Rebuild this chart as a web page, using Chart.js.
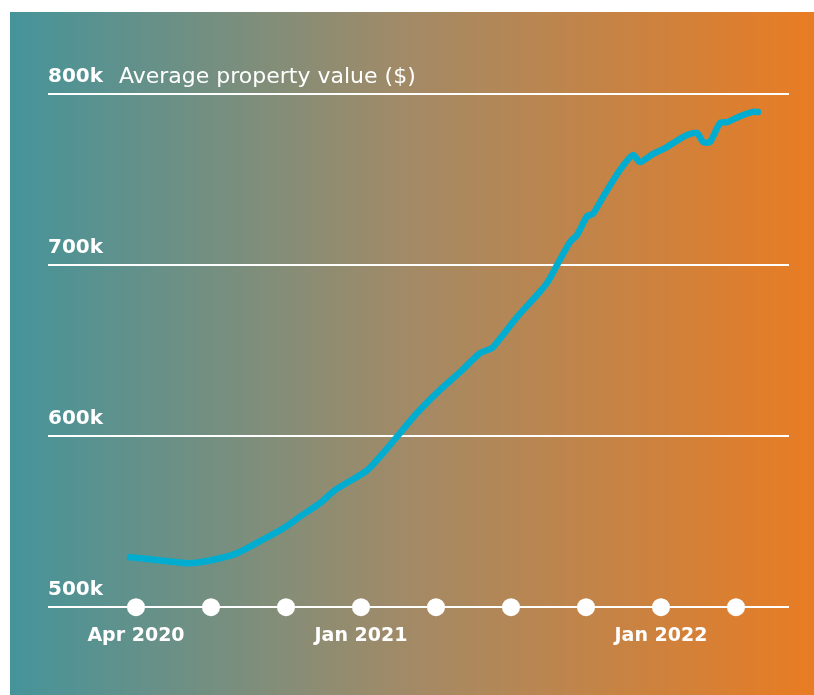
<!DOCTYPE html>
<html>
<head>
<meta charset="utf-8">
<script src="https://cdn.jsdelivr.net/npm/chart.js"></script>
<style>
  html, body { margin: 0; padding: 0; background: #fff; }
  #wrap { position: relative; width: 814px; height: 695px; }
</style>
</head>
<body>
<div id="wrap"><canvas id="chart" width="814" height="695"></canvas></div>
<script>
// months since Apr 2020 and average value in $k
const months = [-0.24, 0.56, 2.04, 2.56, 3.36, 4.04, 4.96, 5.88, 6.64, 7.36, 7.96, 9.24, 9.88, 10.56,
  11.24, 12.16, 12.96, 13.76, 14.24, 14.56, 15.24, 16.04, 16.44, 16.84, 17.36, 17.64, 18.04, 18.28,
  18.68, 19.36, 19.88, 20.16, 20.44, 20.68, 21.24, 21.48, 22.04, 22.44, 22.68, 22.96, 23.36, 23.64,
  24.16, 24.68, 24.88];
const values = [529.2, 528, 525.7, 526.3, 528.6, 531.6, 538.6, 546, 553.8, 560.8, 568.4, 580, 590, 601.8,
  613.5, 627, 637.4, 648.5, 651.5, 657, 669.6, 682.5, 689.5, 700, 713.5, 717.5, 728.5, 730,
  739.8, 755.6, 764.3, 760.2, 762.6, 765, 769, 771.3, 776, 777.2, 772, 772, 783, 783.6,
  787, 789.5, 789.5];

// quarter markers along the axis
const quarterTicks = [0, 3, 6, 9, 12, 15, 18, 21, 24];
const quarterLabels = ['Apr 2020', '', '', 'Jan 2021', '', '', '', 'Jan 2022', ''];
const yTicks = [500, 600, 700, 800];
const yTitle = 'Average property value ($)';

const bgPlugin = {
  id: 'bg',
  beforeDraw(chart) {
    const ctx = chart.ctx;
    const g = ctx.createLinearGradient(10, 0, 814, 0);
    g.addColorStop(0, '#45949b');
    g.addColorStop(0.5, '#a38a66');
    g.addColorStop(1, '#e97c23');
    ctx.save();
    ctx.fillStyle = g;
    ctx.fillRect(10, 12, 804, 683);
    ctx.restore();
  },
  afterDraw(chart) {
    const ctx = chart.ctx;
    const y = chart.scales.y.getPixelForValue(800) - 17;
    ctx.save();
    ctx.fillStyle = '#fff';
    ctx.font = '22px "DejaVu Sans"';
    ctx.textBaseline = 'middle';
    ctx.fillText(yTitle, 119, y);
    ctx.restore();
  }
};

new Chart(document.getElementById('chart'), {
  type: 'line',
  data: {
    datasets: [{
      data: months.map((m, i) => ({ x: m, y: values[i] })),
      borderColor: '#00add0',
      borderWidth: 6.5,
      borderCapStyle: 'round',
      borderJoinStyle: 'round',
      pointRadius: 0,
      tension: 0.25,
      fill: false
    }, {
      data: quarterTicks.map(m => ({ x: m, y: 500 })),
      showLine: false,
      pointRadius: 9,
      pointBackgroundColor: '#fff',
      pointBorderWidth: 0,
      clip: false
    }]
  },
  options: {
    responsive: false,
    animation: false,
    events: [],
    layout: { padding: { left: 48, top: 94, right: 25, bottom: 31 } },
    plugins: { legend: { display: false }, tooltip: { enabled: false } },
    scales: {
      x: {
        type: 'linear',
        min: -3.52,
        max: 26.12,
        afterBuildTicks(axis) { axis.ticks = quarterTicks.map(v => ({ value: v })); },
        grid: { display: false, drawTicks: false },
        border: { display: false },
        ticks: {
          autoSkip: false,
          maxRotation: 0,
          padding: 17,
          color: '#fff',
          font: { family: 'DejaVu Sans', size: 19, weight: 'bold' },
          callback: (v, i) => quarterLabels[i]
        }
      },
      y: {
        min: 500,
        max: 800,
        afterBuildTicks(axis) { axis.ticks = yTicks.map(v => ({ value: v })); },
        grid: { color: '#fff', lineWidth: 2, drawTicks: false },
        border: { display: false },
        ticks: {
          mirror: true,
          padding: 0,
          labelOffset: -17,
          color: '#fff',
          font: { family: 'DejaVu Sans', size: 20, weight: 'bold' },
          callback: v => v + 'k'
        }
      }
    }
  },
  plugins: [bgPlugin]
});
</script>
</body>
</html>
